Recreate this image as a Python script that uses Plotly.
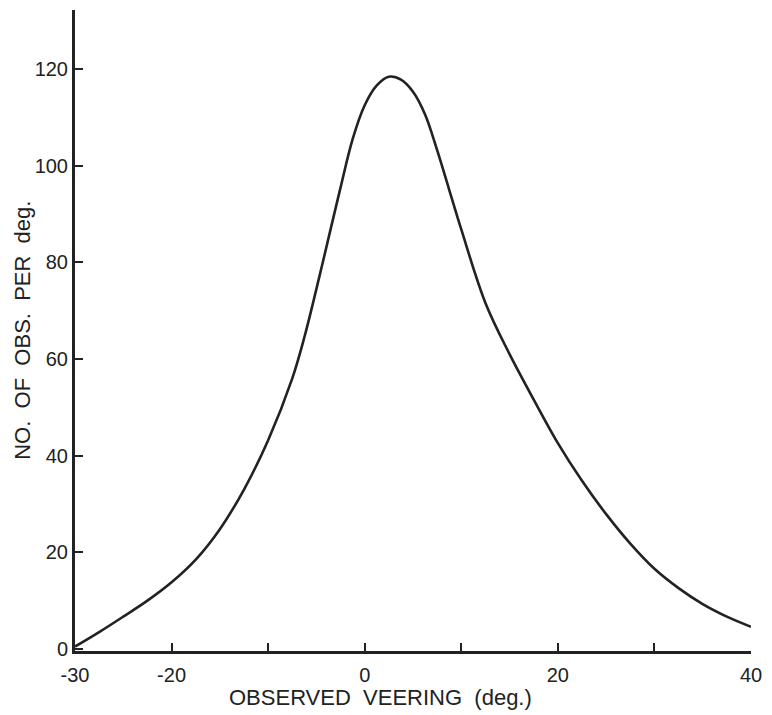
import plotly.graph_objects as go

# Observed veering (deg) and number of observations per degree
veering = [-30, -27.5, -25, -22.5, -20, -17.5, -15, -12.5, -10, -7.5, -6.25, -5,
           -3.75, -2.5, -1.25, 0, 1.25, 2.5, 3.75, 5, 6.25, 7.5, 8.75, 10,
           12.5, 15, 17.5, 20, 22.5, 25, 27.5, 30, 32.5, 35, 37.5, 40]
obs_per_deg = [0.5, 3.5, 6.7, 10.0, 13.8, 18.5, 24.8, 33.0, 43.2, 56.0, 64.5, 74.5,
               85.0, 95.5, 105.5, 112.5, 116.6, 118.4, 117.8, 115.3, 110.6, 103.2, 95.0, 86.8,
               71.6, 61.0, 51.6, 42.6, 34.8, 27.9, 21.8, 16.6, 12.6, 9.3, 6.7, 4.6]

x_tickvals = [-30, -20, -10, 0, 10, 20, 30, 40]
x_ticktext = ["-30", "-20", "", "0", "", "20", "", "40"]
y_tickvals = [0, 20, 40, 60, 80, 100, 120]

ink = "#222222"
font_family = "Liberation Sans, Arial, sans-serif"

fig = go.Figure(
    go.Scatter(
        x=veering,
        y=obs_per_deg,
        mode="lines",
        line=dict(color=ink, width=2.6, shape="spline", smoothing=1.0),
        hoverinfo="x+y",
    )
)

fig.update_layout(
    width=772,
    height=715,
    margin=dict(l=75, r=16, t=10, b=64),
    paper_bgcolor="white",
    plot_bgcolor="white",
    showlegend=False,
    font=dict(family=font_family, color=ink, size=20),
    annotations=[
        dict(
            text="OBSERVED  VEERING  (deg.)",
            xref="paper", yref="paper",
            x=0.452, y=-0.073,
            xanchor="center", yanchor="middle",
            showarrow=False,
            font=dict(size=22, color=ink),
        ),
        dict(
            text="NO.  OF  OBS.  PER  deg.",
            xref="paper", yref="paper",
            x=-0.078, y=0.5,
            xanchor="center", yanchor="middle",
            textangle=-90,
            showarrow=False,
            font=dict(size=22, color=ink),
        ),
    ],
)

fig.update_xaxes(
    range=[-30, 40],
    tickvals=x_tickvals,
    ticktext=x_ticktext,
    ticks="inside",
    ticklen=8,
    tickwidth=2,
    tickcolor=ink,
    showline=True,
    linecolor=ink,
    linewidth=3,
    showgrid=False,
    zeroline=False,
    tickfont=dict(size=20, color=ink),
    ticklabelstandoff=4,
)

fig.update_yaxes(
    range=[-0.41, 132.2],
    tickvals=y_tickvals,
    ticks="inside",
    ticklen=8,
    tickwidth=2,
    tickcolor=ink,
    showline=True,
    linecolor=ink,
    linewidth=3,
    showgrid=False,
    zeroline=False,
    tickfont=dict(size=20, color=ink),
)

fig.write_html("out.html")
